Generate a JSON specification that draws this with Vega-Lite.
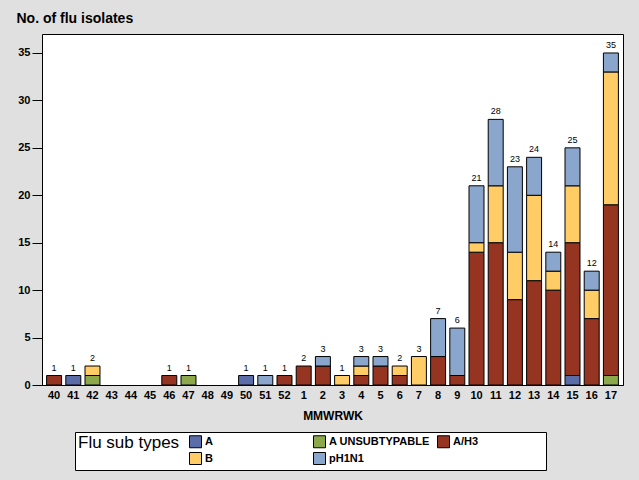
{
  "$schema": "https://vega.github.io/schema/vega-lite/v6.json",
  "autosize": {"type": "none"},
  "width": 581,
  "height": 351,
  "padding": {"left": 42, "top": 34, "right": 16, "bottom": 95},
  "background": "#E0E0E0",
  "config": {
    "view": {"stroke": "black", "strokeWidth": 1, "fill": "white"},
    "font": "Liberation Sans"
  },
  "data": {
    "values": [
      {"week": "40", "type": "A/H3", "count": 1},
      {"week": "41", "type": "A", "count": 1},
      {"week": "42", "type": "A UNSUBTYPABLE", "count": 1},
      {"week": "42", "type": "B", "count": 1},
      {"week": "46", "type": "A/H3", "count": 1},
      {"week": "47", "type": "A UNSUBTYPABLE", "count": 1},
      {"week": "50", "type": "A", "count": 1},
      {"week": "51", "type": "pH1N1", "count": 1},
      {"week": "52", "type": "A/H3", "count": 1},
      {"week": "1", "type": "A/H3", "count": 2},
      {"week": "2", "type": "A/H3", "count": 2},
      {"week": "2", "type": "pH1N1", "count": 1},
      {"week": "3", "type": "B", "count": 1},
      {"week": "4", "type": "A/H3", "count": 1},
      {"week": "4", "type": "B", "count": 1},
      {"week": "4", "type": "pH1N1", "count": 1},
      {"week": "5", "type": "A/H3", "count": 2},
      {"week": "5", "type": "pH1N1", "count": 1},
      {"week": "6", "type": "A/H3", "count": 1},
      {"week": "6", "type": "B", "count": 1},
      {"week": "7", "type": "B", "count": 3},
      {"week": "8", "type": "A/H3", "count": 3},
      {"week": "8", "type": "pH1N1", "count": 4},
      {"week": "9", "type": "A/H3", "count": 1},
      {"week": "9", "type": "pH1N1", "count": 5},
      {"week": "10", "type": "A/H3", "count": 14},
      {"week": "10", "type": "B", "count": 1},
      {"week": "10", "type": "pH1N1", "count": 6},
      {"week": "11", "type": "A/H3", "count": 15},
      {"week": "11", "type": "B", "count": 6},
      {"week": "11", "type": "pH1N1", "count": 7},
      {"week": "12", "type": "A/H3", "count": 9},
      {"week": "12", "type": "B", "count": 5},
      {"week": "12", "type": "pH1N1", "count": 9},
      {"week": "13", "type": "A/H3", "count": 11},
      {"week": "13", "type": "B", "count": 9},
      {"week": "13", "type": "pH1N1", "count": 4},
      {"week": "14", "type": "A/H3", "count": 10},
      {"week": "14", "type": "B", "count": 2},
      {"week": "14", "type": "pH1N1", "count": 2},
      {"week": "15", "type": "A", "count": 1},
      {"week": "15", "type": "A/H3", "count": 14},
      {"week": "15", "type": "B", "count": 6},
      {"week": "15", "type": "pH1N1", "count": 4},
      {"week": "16", "type": "A/H3", "count": 7},
      {"week": "16", "type": "B", "count": 3},
      {"week": "16", "type": "pH1N1", "count": 2},
      {"week": "17", "type": "A UNSUBTYPABLE", "count": 1},
      {"week": "17", "type": "A/H3", "count": 18},
      {"week": "17", "type": "B", "count": 14},
      {"week": "17", "type": "pH1N1", "count": 2}
    ]
  },
  "encoding": {
    "x": {
      "field": "week",
      "type": "nominal",
      "scale": {
        "domain": ["40","41","42","43","44","45","46","47","48","49","50","51","52","1","2","3","4","5","6","7","8","9","10","11","12","13","14","15","16","17"],
        "paddingInner": 0.22,
        "paddingOuter": 0.24
      },
      "axis": {
        "title": "MMWRWK",
        "titleFontSize": 12,
        "titleFontWeight": "bold",
        "titleColor": "black",
        "titlePadding": 10,
        "labelAngle": 0,
        "labelFontSize": 11,
        "labelFontWeight": "bold",
        "labelColor": "black",
        "labelPadding": 4,
        "ticks": false,
        "domain": true,
        "domainColor": "black"
      }
    }
  },
  "layer": [
    {
      "mark": {"type": "bar", "stroke": "black", "strokeWidth": 1},
      "encoding": {
        "y": {
          "field": "count",
          "type": "quantitative",
          "aggregate": "sum",
          "stack": "zero",
          "scale": {"domain": [0, 37], "nice": false},
          "axis": {
            "title": "No. of flu isolates",
            "titleAngle": 0,
            "titleAlign": "left",
            "titleBaseline": "alphabetic",
            "titleX": -26,
            "titleY": -12,
            "titleFontSize": 14,
            "titleFontWeight": "bold",
            "titleColor": "black",
            "values": [0, 5, 10, 15, 20, 25, 30, 35],
            "grid": false,
            "domain": false,
            "tickColor": "black",
            "tickSize": 10,
            "labelFontSize": 11,
            "labelFontWeight": "bold",
            "labelColor": "black",
            "labelPadding": 2
          }
        },
        "color": {
          "field": "type",
          "type": "nominal",
          "scale": {
            "domain": ["A", "A UNSUBTYPABLE", "A/H3", "B", "pH1N1"],
            "range": ["#5A6DA8", "#8BA84B", "#943421", "#FFCC66", "#8AA6CC"]
          },
          "legend": {
            "title": "Flu sub types",
            "orient": "none",
            "legendX": 33,
            "legendY": 398,
            "direction": "horizontal",
            "columns": 3,
            "gridAlign": "all",
            "columnPadding": 5,
            "rowPadding": 0,
            "padding": 3,
            "strokeColor": "black",
            "fillColor": "white",
            "titleOrient": "left",
            "titleAnchor": "start",
            "titleBaseline": "top",
            "titleFontSize": 17,
            "titleFontWeight": "normal",
            "titleColor": "black",
            "titlePadding": 9,
            "labelFontSize": 11,
            "labelFontWeight": "bold",
            "labelColor": "black",
            "labelOffset": 3,
            "labelExpr": "datum.label == 'A/H3' ? 'A/H3\u00a0\u00a0\u00a0\u00a0\u00a0\u00a0\u00a0\u00a0\u00a0\u00a0\u00a0\u00a0\u00a0\u00a0\u00a0\u00a0\u00a0\u00a0\u00a0\u00a0\u00a0\u200b' : datum.label",
            "symbolType": "square",
            "symbolSize": 144,
            "symbolStrokeColor": "black",
            "symbolStrokeWidth": 1,
            "symbolOpacity": 1
          }
        },
        "order": {"field": "type", "type": "nominal", "sort": "ascending"}
      }
    },
    {
      "transform": [
        {"aggregate": [{"op": "sum", "field": "count", "as": "total"}], "groupby": ["week"]},
        {"filter": "datum.total > 0"}
      ],
      "mark": {"type": "text", "dy": -5, "baseline": "alphabetic", "fontSize": 9, "color": "black"},
      "encoding": {
        "y": {"field": "total", "type": "quantitative"},
        "text": {"field": "total", "type": "quantitative"}
      }
    }
  ]
}
